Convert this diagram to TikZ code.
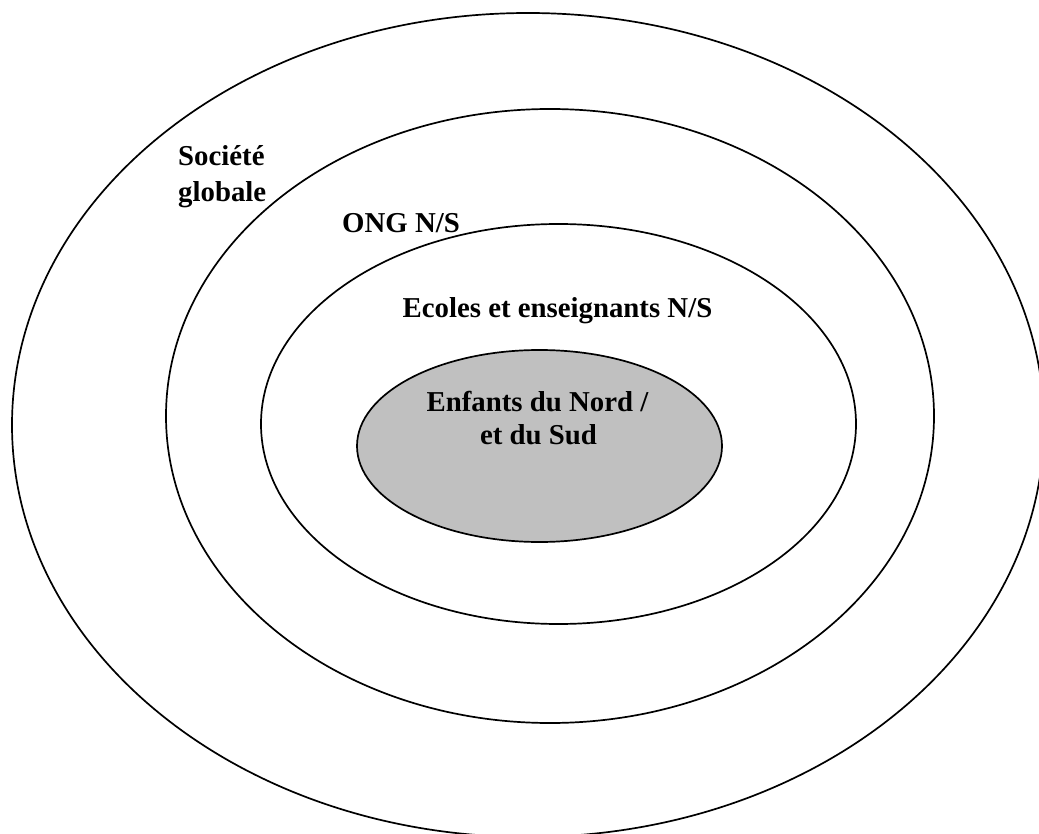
\documentclass[tikz,border=0pt]{standalone}
\usepackage{fontspec}
\setmainfont{Liberation Serif}
\begin{document}
\begin{tikzpicture}[x=1pt,y=-1pt,
  ring/.style={draw=black, line width=1.7pt},
  lbl/.style={font=\fontsize{28.8}{33}\selectfont\bfseries, inner sep=0pt}]
\useasboundingbox (0,0) rectangle (1039,834);
\clip (0,0) rectangle (1039,834);
\fill[white] (0,0) rectangle (1039,834);
\draw[ring] (528,425) ellipse [x radius=516, y radius=412];
\draw[ring] (550,416) ellipse [x radius=384, y radius=307];
\draw[ring] (558.5,424) ellipse [x radius=297.5, y radius=200];
\draw[ring, fill={rgb,255:red,192;green,192;blue,192}] (539.5,446) ellipse [x radius=182.5, y radius=96];
\node[lbl, anchor=base west] (soc1) at (178,166) {Société};
\node[lbl, anchor=base west] (soc2) at (178,202) {globale};
\node[lbl, anchor=base west] (ong) at (342,233) {ONG N/S};
\node[lbl, anchor=base] (eco) at (557.5,318) {Ecoles et enseignants N/S};
\node[lbl, anchor=base] (enf1) at (537.5,411) {Enfants du Nord /};
\node[lbl, anchor=base] (enf2) at (538.5,444) {et du Sud};
\end{tikzpicture}
\end{document}
